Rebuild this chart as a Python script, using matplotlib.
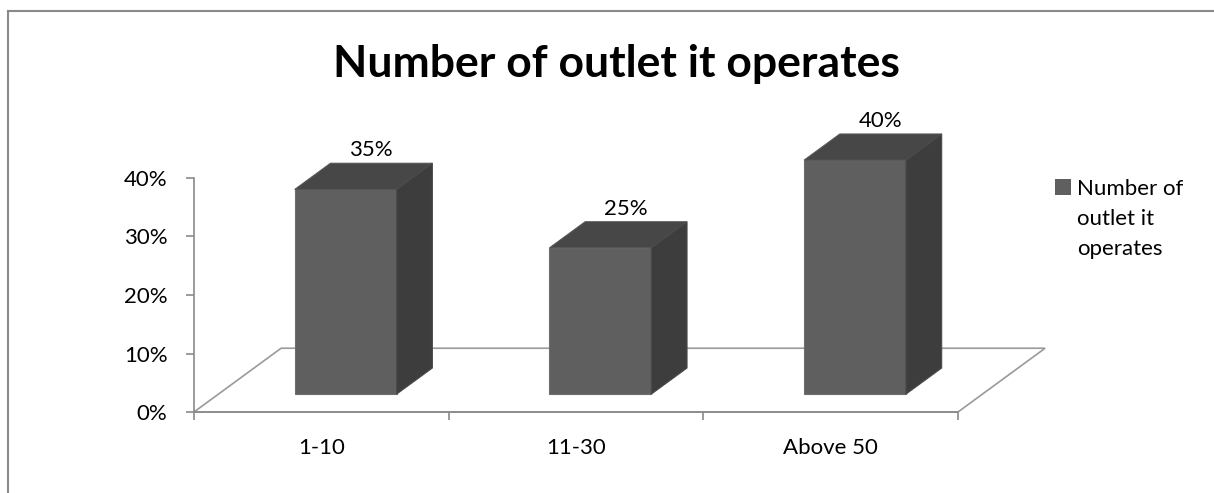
import matplotlib
matplotlib.use("Agg")
import matplotlib.pyplot as plt
from matplotlib.patches import Polygon, Rectangle
from matplotlib.lines import Line2D

categories = ["1-10", "11-30", "Above 50"]
values = [35, 25, 40]
series_name = "Number of outlet it operates"
legend_lines = ["Number of", "outlet it", "operates"]
yticks = [0, 10, 20, 30, 40]

plt.rcParams['font.family'] = ['Lato', 'DejaVu Sans']

front_col = '#5f5f5f'
top_col = '#474747'
side_col = '#3d3d3d'
line_col = '#9a9a9a'
axis_col = '#8a8a8a'

W, H = 1214, 493

# oblique depth of the floor, in data units
depth_x = 0.342
depth_y = 10.9
bar_w = 0.4
f_front, f_back = 0.28, 0.69

fig = plt.figure(figsize=(W / 100, H / 100), dpi=100)
ax = fig.add_axes([194/W, 81/H, 764/W, 234/H])
ax.set_xlim(0, len(categories))
ax.set_ylim(0, 40)

# floor outline
n = len(categories)
floor = Polygon([(0, 0), (n, 0), (n + depth_x, depth_y), (depth_x, depth_y)],
                closed=True, fill=False, edgecolor=line_col, lw=1.2, clip_on=False, zorder=1)
ax.add_patch(floor)

for i, v in enumerate(values):
    c = i + 0.5
    fx, fy = f_front * depth_x, f_front * depth_y
    bx, by = f_back * depth_x, f_back * depth_y
    x0, x1 = c - bar_w/2, c + bar_w/2
    front = Polygon([(x0+fx, fy), (x1+fx, fy), (x1+fx, fy+v), (x0+fx, fy+v)],
                    facecolor=front_col, edgecolor='#6e6e6e', lw=0.8, clip_on=False, zorder=3)
    top = Polygon([(x0+fx, fy+v), (x1+fx, fy+v), (x1+bx, by+v), (x0+bx, by+v)],
                  facecolor=top_col, edgecolor='#555555', lw=0.8, clip_on=False, zorder=3)
    side = Polygon([(x1+fx, fy), (x1+bx, by), (x1+bx, by+v), (x1+fx, fy+v)],
                   facecolor=side_col, edgecolor='#4a4a4a', lw=0.8, clip_on=False, zorder=3)
    for p in (front, top, side):
        ax.add_patch(p)
    ax.text(c + fx + 0.1, by + v + 1.2, f"{v}%", ha='center', va='baseline',
            fontsize=16, color='black', zorder=4)

for s in ['top', 'right']:
    ax.spines[s].set_visible(False)
for s in ['left', 'bottom']:
    ax.spines[s].set_color(axis_col)
    ax.spines[s].set_linewidth(1.2)

ax.set_yticks(yticks)
ax.set_yticklabels([f"{t}%" for t in yticks])
ax.tick_params(axis='y', direction='out', length=6, width=1.2, color=axis_col,
               pad=13, labelsize=16)
ax.set_xticks(range(n + 1))
ax.set_xticklabels([])
ax.set_xticks([i + 0.5 for i in range(n)], minor=True)
ax.set_xticklabels(categories, minor=True)
ax.tick_params(axis='x', which='major', direction='out', length=6, width=1.2, color=axis_col)
ax.tick_params(axis='x', which='minor', length=0, pad=19, labelsize=16)

fig.text(616/W, 1 - 77/H, series_name, ha='center', va='baseline',
         fontsize=32, fontweight='bold')

# legend: swatch plus wrapped series name
fig.add_artist(Rectangle((1055/W, 1 - 195/H), 16/W, 16/H,
                         transform=fig.transFigure, facecolor=front_col, edgecolor='none'))
for k, line in enumerate(legend_lines):
    fig.text(1077/W, 1 - (195 + 30 * k)/H, line, ha='left', va='baseline', fontsize=16)

# outer border
fig.add_artist(Line2D([8/W, 1], [1 - 11/H, 1 - 11/H], transform=fig.transFigure,
                      color=axis_col, lw=1.5))
fig.add_artist(Line2D([8/W, 8/W], [0, 1 - 11/H], transform=fig.transFigure,
                      color=axis_col, lw=1.5))

fig.savefig("out.png", dpi=100)
